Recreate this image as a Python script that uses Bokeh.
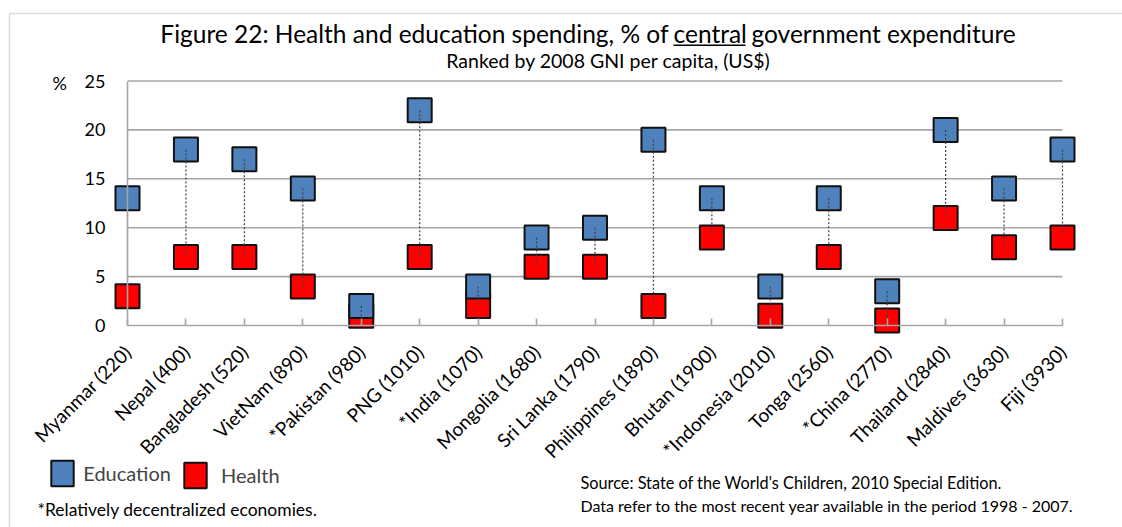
import math
from bokeh.plotting import figure
from bokeh.models import (Range1d, FixedTicker, Label, BoxAnnotation, Legend, LegendItem)
from bokeh.embed import file_html
from bokeh.resources import INLINE

countries = ["Myanmar (220)", "Nepal (400)", "Bangladesh (520)", "VietNam (890)",
             "*Pakistan (980)", "PNG (1010)", "*India (1070)", "Mongolia (1680)",
             "Sri Lanka (1790)", "Philippines (1890)", "Bhutan (1900)",
             "*Indonesia (2010)", "Tonga (2560)", "*China (2770)", "Thailand (2840)",
             "Maldives (3630)", "Fiji (3930)"]
education = [13, 18, 17, 14, 2, 22, 4, 9, 10, 19, 13, 4, 13, 3.5, 20, 14, 18]
health = [3, 7, 7, 4, 1, 7, 2, 6, 6, 2, 9, 1, 7, 0.5, 11, 8, 9]
y_ticks = [0, 5, 10, 15, 20, 25]

FONT = "Lato"
BLUE = "#4F81BD"
RED = "#FF0000"
GRID = "#A6A6A6"
EDGE = "#111111"

idx = list(range(len(countries)))
n_last = idx[-1]

W, H = 1122, 527
# pixel geometry of the plotting area (canvas px from top-left)
X0_PX, XN_PX = 127, 1062
Y0_PX, YTOP_PX = 325, 80.5
ppx = (XN_PX - X0_PX) / n_last
ppy = (Y0_PX - YTOP_PX) / y_ticks[-1]

p = figure(width=W, height=H, output_backend="svg", toolbar_location=None,
           title=None,
           x_range=Range1d(-X0_PX / ppx, (W - X0_PX) / ppx),
           y_range=Range1d(-(H - Y0_PX) / ppy, Y0_PX / ppy),
           min_border_left=0, min_border_right=0,
           min_border_top=0, min_border_bottom=0)
p.outline_line_color = None
p.background_fill_color = "white"
p.border_fill_color = "white"
p.xgrid.visible = False
p.ygrid.visible = False

# axes (fixed at the data origin)
p.yaxis.fixed_location = 0
p.yaxis.bounds = (y_ticks[0], y_ticks[-1])
p.yaxis.ticker = FixedTicker(ticks=y_ticks)
p.yaxis.axis_line_color = GRID
p.yaxis.axis_line_width = 1.6
p.yaxis.major_tick_line_color = None
p.yaxis.minor_tick_line_color = None
p.yaxis.major_tick_out = 0
p.yaxis.major_tick_in = 0
p.yaxis.major_label_standoff = 22
p.yaxis.major_label_text_font = FONT
p.yaxis.major_label_text_font_size = "18px"
p.yaxis.major_label_text_color = "black"

p.xaxis.fixed_location = 0
p.xaxis.bounds = (0, n_last)
p.xaxis.ticker = FixedTicker(ticks=idx)
p.xaxis.major_label_overrides = {i: c for i, c in zip(idx, countries)}
p.xaxis.major_label_orientation = math.pi / 4
p.xaxis.axis_line_color = GRID
p.xaxis.axis_line_width = 1.6
p.xaxis.major_tick_line_color = GRID
p.xaxis.major_tick_line_width = 1.6
p.xaxis.minor_tick_line_color = None
p.xaxis.major_tick_out = 0
p.xaxis.major_tick_in = 7
p.xaxis.major_label_standoff = 23
p.xaxis.major_label_text_font = FONT
p.xaxis.major_label_text_font_size = "19px"
p.xaxis.major_label_text_color = "black"

# horizontal gridlines
grid_y = y_ticks[1:]
p.segment(x0=[0] * len(grid_y), x1=[n_last] * len(grid_y), y0=grid_y, y1=grid_y,
          line_color=GRID, line_width=1.6)

# markers
p.scatter(idx, health, marker="square", size=24, fill_color=RED,
          line_color=EDGE, line_width=2)
p.scatter(idx, education, marker="square", size=24, fill_color=BLUE,
          line_color=EDGE, line_width=2)
# dotted connectors
p.segment(x0=idx, x1=idx, y0=education, y1=health, line_color="#404040",
          line_width=1.2, line_dash="2 2")

# legend swatches (area glyphs with no visible data)
nan = float("nan")
r_edu = p.quad(left=[nan], right=[nan], top=[nan], bottom=[nan], fill_color=BLUE,
               line_color=EDGE, line_width=2)
r_hea = p.quad(left=[nan], right=[nan], top=[nan], bottom=[nan], fill_color=RED,
               line_color=EDGE, line_width=2)
for item, loc, standoff in [
        (LegendItem(label="Education", renderers=[r_edu]), (48.25, H - 489.25), 7),
        (LegendItem(label="Health", renderers=[r_hea]), (181.1, H - 491.25), 12)]:
    lg = Legend(items=[item], location=loc, orientation="horizontal",
                glyph_width=28, glyph_height=32, label_standoff=standoff,
                label_text_font=FONT, label_text_font_size="20px",
                border_line_color=None, background_fill_alpha=0,
                padding=0, margin=0, spacing=0)
    p.add_layout(lg)


def lab(text, px, py, size, align="left", baseline="middle", **kw):
    p.add_layout(Label(x=px, y=H - py, x_units="screen", y_units="screen",
                       text=text, text_font=FONT, text_font_size=size,
                       text_align=align, text_baseline=baseline, text_color="black", **kw))


# title pieces
lab("Figure 22: Health and education spending, % of", 668, 33, "24.5px", align="right")
lab("central", 673, 33, "24.5px")
lab("government expenditure", 751, 33, "24.5px")
p.add_layout(BoxAnnotation(left=673, right=745, bottom=H - 45.5, top=H - 44,
                           left_units="screen", right_units="screen",
                           top_units="screen", bottom_units="screen",
                           fill_color="black", fill_alpha=1, line_color=None))
lab("Ranked by 2008 GNI per capita, (US$)", 608, 60, "19.5px", align="center")
lab("%", 52, 82, "18px")

lab("*Relatively decentralized economies.", 37, 509, "17.5px")
lab("Source: State of the World's Children, 2010 Special Edition.", 580, 482, "16.3px")
lab("Data refer to the most recent year available  in the period 1998 - 2007.", 580, 505, "16px")

# outer border
p.add_layout(BoxAnnotation(left=9, right=W + 50, top=H - 13, bottom=-50,
                           left_units="screen", right_units="screen",
                           top_units="screen", bottom_units="screen",
                           fill_alpha=0, line_color="#8C8C8C", line_width=1.5))

open("out.html", "w").write(file_html(p, INLINE))
